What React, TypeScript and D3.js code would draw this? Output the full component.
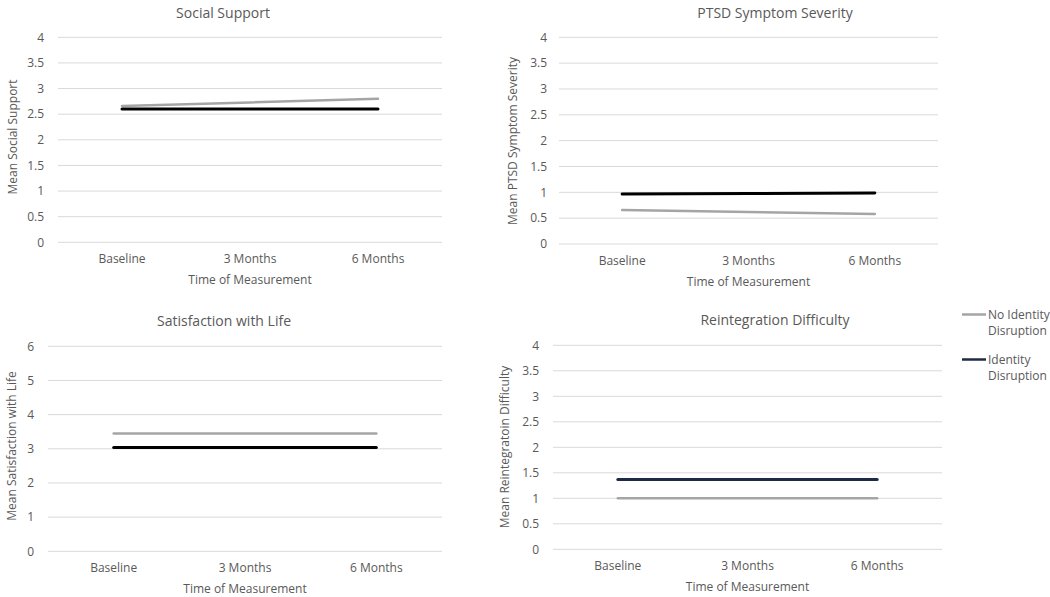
import * as d3 from "d3"

const timepoints = ["Baseline", "3 Months", "6 Months"]
const seriesNames = ["No Identity Disruption", "Identity Disruption"]

// mean scores per panel: [no identity disruption, identity disruption]
const socialSupport = [
  [2.66, 2.73, 2.8],
  [2.6, 2.6, 2.6],
]
const ptsdSeverity = [
  [0.66, 0.62, 0.58],
  [0.97, 0.975, 0.985],
]
const lifeSatisfaction = [
  [3.45, 3.45, 3.45],
  [3.04, 3.04, 3.04],
]
const reintegration = [
  [1.0, 1.0, 1.0],
  [1.37, 1.37, 1.37],
]

const halfTicks = [0, 0.5, 1, 1.5, 2, 2.5, 3, 3.5, 4]
const wholeTicks = [0, 1, 2, 3, 4, 5, 6]

const FONT = "'Open Sans', 'Noto Sans', sans-serif"
const TEXT = "#595959"
const GRID = "#d9d9d9"
const GREY = "#a5a5a5"

interface PanelProps {
  title: string
  yTitle: string
  values: number[][]
  ticks: number[]
  yMax: number
  left: number
  right: number
  top: number
  bottom: number
  titleX: number
  titleY: number
  tickX: number
  yTitleX: number
  yTitleY: number
  darkColor: string
}

function Panel(p: PanelProps) {
  const x = d3.scalePoint<string>().domain(timepoints).range([p.left, p.right]).padding(0.5)
  const y = d3.scaleLinear().domain([0, p.yMax]).range([p.bottom, p.top])
  const line = d3
    .line<number>()
    .x((_, i) => x(timepoints[i]) as number)
    .y((d) => y(d))
  const colors = [GREY, p.darkColor]
  const midX = (p.left + p.right) / 2

  return (
    <g fontFamily={FONT} fill={TEXT}>
      <text x={p.titleX} y={p.titleY} textAnchor="middle" fontSize={14}>
        {p.title}
      </text>
      {p.ticks.map((t) => (
        <g key={t}>
          <line x1={p.left} x2={p.right} y1={y(t)} y2={y(t)} stroke={GRID} strokeWidth={1} />
          <text x={p.tickX} y={y(t)} dy="0.35em" textAnchor="end" fontSize={12}>
            {t}
          </text>
        </g>
      ))}
      {timepoints.map((c) => (
        <text key={c} x={x(c)} y={p.bottom + 21} textAnchor="middle" fontSize={12}>
          {c}
        </text>
      ))}
      <text x={midX} y={p.bottom + 42} textAnchor="middle" fontSize={12}>
        Time of Measurement
      </text>
      <text
        transform={`translate(${p.yTitleX},${p.yTitleY}) rotate(-90)`}
        textAnchor="middle"
        fontSize={12}
      >
        {p.yTitle}
      </text>
      {p.values.map((s, i) => (
        <path
          key={i}
          d={line(s) ?? ""}
          fill="none"
          stroke={colors[i]}
          strokeWidth={i === 0 ? 2.5 : 3}
          strokeLinecap="round"
        />
      ))}
    </g>
  )
}

export default function App() {
  const legendColors = [GREY, "#1f2b44"]
  const legendLines = [
    ["No Identity", "Disruption"],
    ["Identity", "Disruption"],
  ]
  return (
    <svg
      width={1050}
      height={597}
      style={{ position: "absolute", left: 0, top: 0, background: "#fff" }}
    >
      <Panel
        title="Social Support"
        yTitle="Mean Social Support"
        values={socialSupport}
        ticks={halfTicks}
        yMax={4}
        left={58}
        right={442}
        top={37.3}
        bottom={242.3}
        titleX={223}
        titleY={17.5}
        tickX={44}
        yTitleX={17}
        yTitleY={137}
        darkColor="#000"
      />
      <Panel
        title="PTSD Symptom Severity"
        yTitle="Mean PTSD Symptom  Severity"
        values={ptsdSeverity}
        ticks={halfTicks}
        yMax={4}
        left={559}
        right={938}
        top={37.3}
        bottom={244}
        titleX={775}
        titleY={17.5}
        tickX={547}
        yTitleX={517}
        yTitleY={141}
        darkColor="#000"
      />
      <Panel
        title="Satisfaction with Life"
        yTitle="Mean Satisfaction with Life"
        values={lifeSatisfaction}
        ticks={wholeTicks}
        yMax={6}
        left={48}
        right={442}
        top={346.3}
        bottom={551.3}
        titleX={224}
        titleY={326}
        tickX={34}
        yTitleX={16}
        yTitleY={446}
        darkColor="#000"
      />
      <Panel
        title="Reintegration Difficulty"
        yTitle="Mean Reintegratoin Difficulty"
        values={reintegration}
        ticks={halfTicks}
        yMax={4}
        left={553}
        right={942}
        top={345.3}
        bottom={549.3}
        titleX={775}
        titleY={325}
        tickX={539}
        yTitleX={509}
        yTitleY={447}
        darkColor="#1f2b44"
      />
      {seriesNames.map((name, i) => {
        const ly = 314.5 + i * 45
        return (
          <g key={name} fontFamily={FONT} fill={TEXT} fontSize={12}>
            <line x1={962} x2={986} y1={ly} y2={ly} stroke={legendColors[i]} strokeWidth={2.5} />
            <text x={988} y={ly} dy="0.35em">
              {legendLines[i][0]}
            </text>
            <text x={988} y={ly + 16} dy="0.35em">
              {legendLines[i][1]}
            </text>
          </g>
        )
      })}
    </svg>
  )
}
